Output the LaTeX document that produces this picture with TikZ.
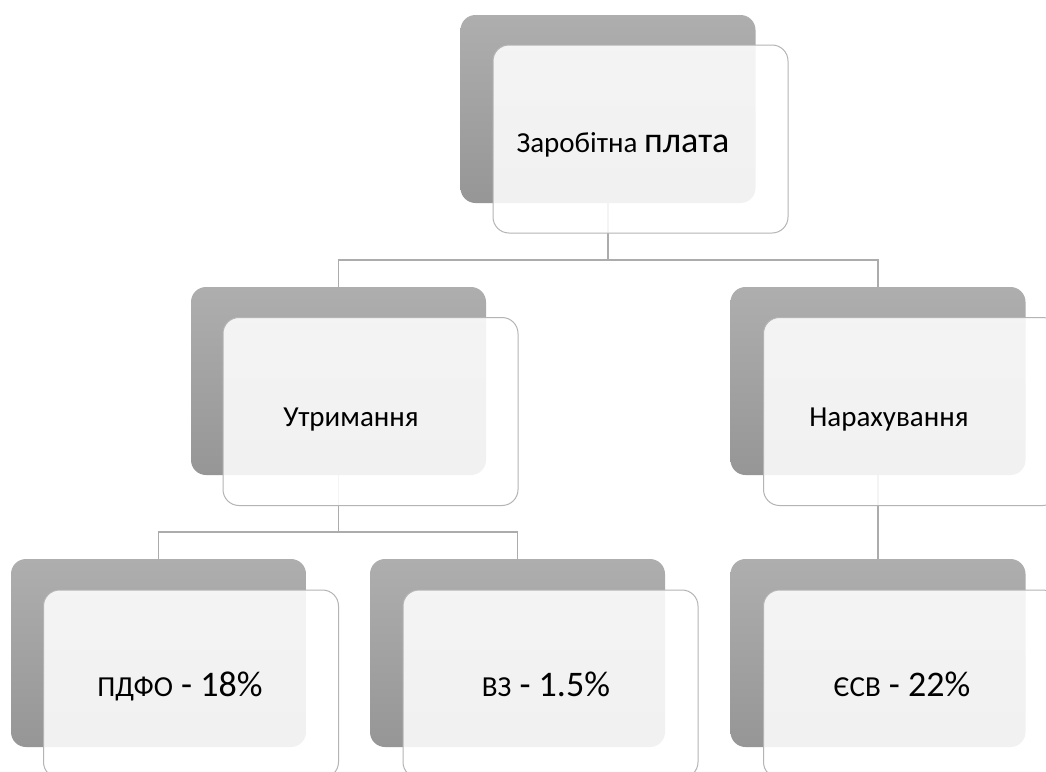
\documentclass[tikz,border=0pt]{standalone}
\usepackage{fontspec}
\setmainfont{Carlito}
\newcommand\smtxt{\fontsize{29}{34}\selectfont}
\newcommand\bigtxt{\fontsize{36}{42}\selectfont}
\definecolor{backtop}{RGB}{174,174,174}
\definecolor{backbot}{RGB}{150,150,150}
\definecolor{edgegray}{RGB}{180,180,180}
\definecolor{linegray}{RGB}{172,172,172}
\tikzset{
  backbox/.style={shade, top color=backtop, bottom color=backbot, rounded corners=15pt,
    minimum width=295pt, minimum height=188pt, inner sep=0pt},
  frontbox/.style={draw=edgegray, line width=1pt, fill=white, fill opacity=0.87,
    rounded corners=16pt, minimum width=295pt, minimum height=188pt, inner sep=0pt},
  conn/.style={draw=linegray, line width=1.2pt},
  label/.style={anchor=base, inner sep=0pt, text=black}
}
\begin{document}
\begin{tikzpicture}[x=1pt, y=-1pt]
\clip (0,0) rectangle (1046,771);
\fill[white] (0,0) rectangle (1046,771);

% grey back plates
\node[backbox] (g0) at (608,109) {};
\node[backbox] (g1) at (338.5,381) {};
\node[backbox] (g2) at (878,381) {};
\node[backbox] (g3) at (158.5,653) {};
\node[backbox] (g4) at (517.5,653) {};
\node[backbox] (g5) at (878,653) {};

% hierarchy lines
\coordinate (bar0) at (0,260);
\coordinate (bar1) at (0,532);
\draw[conn] (g0.south) -- (g0.south |- bar0) -| (g1.north);
\draw[conn] (g0.south |- bar0) -| (g2.north);
\draw[conn] (g1.south) -- (g1.south |- bar1) -| (g3.north);
\draw[conn] (g1.south |- bar1) -| (g4.north);
\draw[conn] (g2.south) -- (g5.north);

% translucent front cards
\node[frontbox] (w0) at (640.5,139) {};
\node[frontbox] (w1) at (370.5,411.5) {};
\node[frontbox] (w2) at (911,411.5) {};
\node[frontbox] (w3) at (191,684) {};
\node[frontbox] (w4) at (550.5,684) {};
\node[frontbox] (w5) at (911,684) {};

% captions
\node[label] (t0) at (623,152) {\smtxt Заробітна \bigtxt плата};
\node[label] (t1) at (351,426) {\smtxt Утримання};
\node[label] (t2) at (889,426) {\smtxt Нарахування};
\node[label] (t3) at (180,696) {\smtxt ПДФО\bigtxt{} - 18\%};
\node[label] (t4) at (546,696) {\smtxt ВЗ\bigtxt{} - 1.5\%};
\node[label] (t5) at (902,696) {\smtxt ЄСВ\bigtxt{} - 22\%};
\end{tikzpicture}
\end{document}
